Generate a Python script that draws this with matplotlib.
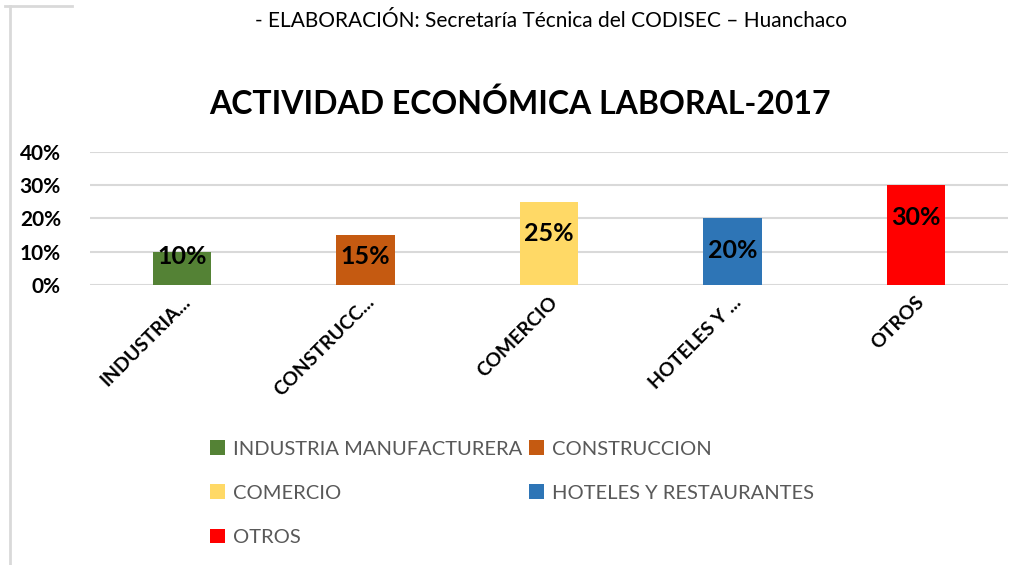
import matplotlib.pyplot as plt
from matplotlib.patches import Patch
from matplotlib.ticker import PercentFormatter
from matplotlib.lines import Line2D

categories = ['INDUSTRIA MANUFACTURERA', 'CONSTRUCCION', 'COMERCIO',
              'HOTELES Y RESTAURANTES', 'OTROS']
tick_labels = ['INDUSTRIA...', 'CONSTRUCC...', 'COMERCIO', 'HOTELES Y ...', 'OTROS']
values = [0.10, 0.15, 0.25, 0.20, 0.30]
colors = ['#548235', '#C55A11', '#FFD966', '#2E75B6', '#FF0000']

plt.rcParams['font.family'] = ['Lato', 'DejaVu Sans']

fig = plt.figure(figsize=(10.24, 5.65), dpi=100)
ax = fig.add_axes([0.088, 0.4956, 0.896, 0.2354])

x = list(range(len(values)))
bars = ax.bar(x, values, width=0.32, color=colors, zorder=2)
# labels sit inside the bar end, but never lower than a minimum height
for b, v in zip(bars, values):
    ax.text(b.get_x() + b.get_width() / 2, max(v - 0.096, 0.087), f'{v:.0%}',
            ha='center', va='center', fontsize=18, fontweight='bold', zorder=3)

ax.set_xlim(-0.5, 4.5)
ax.set_ylim(0, 0.4)
ax.set_yticks([0, 0.1, 0.2, 0.3, 0.4])
ax.yaxis.set_major_formatter(PercentFormatter(1.0, decimals=0))
ax.yaxis.grid(True, color='#d9d9d9', linewidth=1.5, zorder=0)
for s in ax.spines.values():
    s.set_visible(False)
ax.tick_params(axis='both', length=0)
ax.tick_params(axis='y', labelsize=15, pad=21)
for lab in ax.get_yticklabels():
    lab.set_fontweight('bold')
ax.set_xticks(x)
ax.set_xticklabels(tick_labels, rotation=45, ha='right', rotation_mode='anchor',
                   fontsize=14, fontweight='bold')
ax.tick_params(axis='x', pad=6)

fig.text(0.508, 0.817, 'ACTIVIDAD ECONÓMICA LABORAL-2017', ha='center', va='center',
         fontsize=23, fontweight='bold')
fig.text(0.538, 0.962, '- ELABORACIÓN: Secretaría Técnica del CODISEC – Huanchaco',
         ha='center', va='center', fontsize=15)

# legend filled column by column, so order gives rows: IND/CONS, COM/HOT, OTROS
order = [0, 2, 4, 1, 3]
handles = [Patch(facecolor=colors[i]) for i in order]
labels = [categories[i] for i in order]
leg = fig.legend(handles, labels, ncol=2, loc='upper left',
                 bbox_to_anchor=(0.187, 0.253), frameon=False, fontsize=14.5,
                 handlelength=0.75, handleheight=0.75, handletextpad=0.4,
                 columnspacing=0.35, labelspacing=1.33, labelcolor='#595959')

# page border remnants
fig.add_artist(Line2D([0.0095, 0.0095], [0, 0.99], color='#d9d9d9', linewidth=2))
fig.add_artist(Line2D([0.005, 0.07], [0.99, 0.99], color='#d9d9d9', linewidth=2))

fig.savefig('out.png', dpi=100)
